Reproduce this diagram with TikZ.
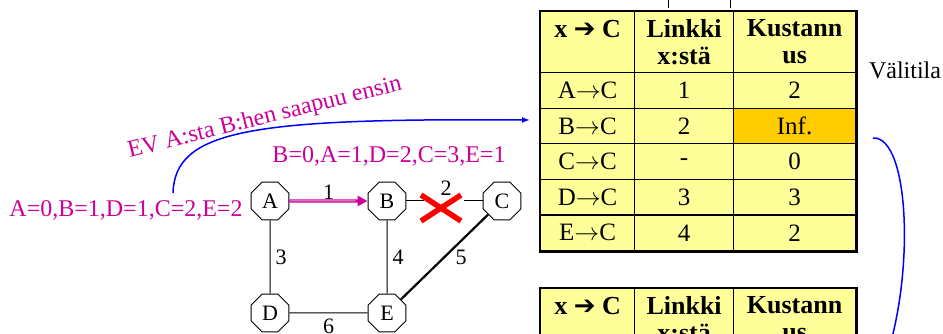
\documentclass[tikz,border=0pt]{standalone}
\usepackage{fontspec}
\setmainfont{Liberation Serif}
\newfontfamily\arrowfont{DejaVu Sans}
\usetikzlibrary{arrows.meta,shapes.geometric,positioning}
\definecolor{pinkline}{HTML}{CC0099}
\definecolor{tabfill}{HTML}{FFFF99}
\definecolor{inffill}{HTML}{FFCC00}
\definecolor{xred}{HTML}{FF0000}
\definecolor{curve}{HTML}{0000FF}

\begin{document}
\begin{tikzpicture}[x=1pt,y=-1pt,>=Latex,line width=1pt,
    router/.style={regular polygon,regular polygon sides=8,draw,fill=white,minimum size=41pt,inner sep=0pt,font=\fontsize{22}{24}\selectfont},
    weight/.style={font=\fontsize{22}{24}\selectfont,inner sep=2pt},
    dist/.style={text=pinkline,font=\fontsize{24}{26}\selectfont,inner sep=0pt},
    cell/.style={draw,line width=1.2pt,fill=tabfill,anchor=north west,inner sep=0pt,minimum height=35.6pt,font=\fontsize{25}{27}\selectfont},
    head/.style={cell,minimum height=61pt,align=center,font=\bfseries\fontsize{26}{27}\selectfont}]
  \clip (0,0) rectangle (943,334);
  \fill[white] (0,0) rectangle (943,334);
  % routers
  \node[router] (A) at (270,201) {A};
  \node[router] (B) at (387,201) {B};
  \node[router] (C) at (502,201) {C};
  \node[router] (D) at (270,313) {D};
  \node[router] (E) at (387,313) {E};
  % links
  \draw[pinkline,line width=3.2pt,-{Triangle[length=10pt,width=10pt]}] (A) -- node[weight,text=black,above=-2pt] {1} (B);
  \draw[pinkline!35,line width=1pt,shorten >=12pt,shorten <=1pt] (A) -- (B);
  \draw (A) -- node[weight,right=3pt] {3} (D);
  \draw (B) -- node[weight,right=3pt] {4} (E);
  \draw (D) -- node[weight,below=3pt] {6} (E);
  \draw[line width=2.2pt] (C) -- node[weight,right=8pt] {5} (E);
  \draw (B.east) -- ++(18,0);
  \draw (C.west) -- ++(-19,0);
  \node[weight] (w2) at (446,188) {2};
  \coordinate (cut) at (441,208);
  \draw[xred,line width=5.5pt] (cut) +(-20,-13) -- +(20,13) (cut) +(-20,13) -- +(20,-13);
  % distance vectors
  \node[dist] (before) at (126,210) {A=0,B=1,D=1,C=2,E=2};
  \node[dist] (after) at (389,156) {B=0,A=1,D=2,C=3,E=1};
  \node[dist,rotate=14] (ev) at (265,118) {EV A:sta B:hen saapuu ensin};
  % table 1
  \node[head,minimum width=94pt] (h1) at (540,11) {x {\arrowfont ➔} C\\\mbox{}};
  \node[head,minimum width=99pt] (h2) at (634,11) {Linkki\\x:stä};
  \node[head,minimum width=122pt] (h3) at (733,11) {Kustann\\us};
  \foreach \src/\lnk/\cst/\col [count=\i] in {A/1/2/tabfill,B/2/Inf./inffill,C/-/0/tabfill,D/3/3/tabfill,E/4/2/tabfill}{
    \node[cell,minimum width=94pt] (r\i c1) at (540,{72+35.6*(\i-1)}) {\src$\rightarrow$C};
    \node[cell,minimum width=99pt] (r\i c2) at (634,{72+35.6*(\i-1)}) {\lnk};
    \node[cell,minimum width=122pt,fill=\col] (r\i c3) at (733,{72+35.6*(\i-1)}) {\cst};
  }
  \draw[line width=2.8pt] (h1.north west) rectangle (r5c3.south east);
  \node[font=\fontsize{24}{26}\selectfont] (state) at (905,70) {Välitila};
  % table 2
  \node[head,minimum width=94pt] (k1) at (540,288) {x {\arrowfont ➔} C\\\mbox{}};
  \node[head,minimum width=99pt] (k2) at (634,288) {Linkki\\x:stä};
  \node[head,minimum width=122pt] (k3) at (733,288) {Kustann\\us};
  \draw[line width=2.8pt] (k1.north west) rectangle (k3.south east);
  % leftovers of the table above
  \draw (668,0) -- (668,8);
  \draw (730,0) -- (730,8);
  % arrows
  \coordinate (evstart) at (173,193);
  \coordinate (evend) at (530,120);
  \draw[curve,line width=1.5pt,-{Latex[length=8pt,width=6pt]}] (evstart) .. controls (175,130) and (250,118) .. (evend);
  \coordinate (nextstart) at (873,138);
  \coordinate (nextend) at (882,370);
  \draw[curve,line width=1.5pt] (nextstart) .. controls (910,136) and (916,280) .. (nextend);
\end{tikzpicture}
\end{document}
